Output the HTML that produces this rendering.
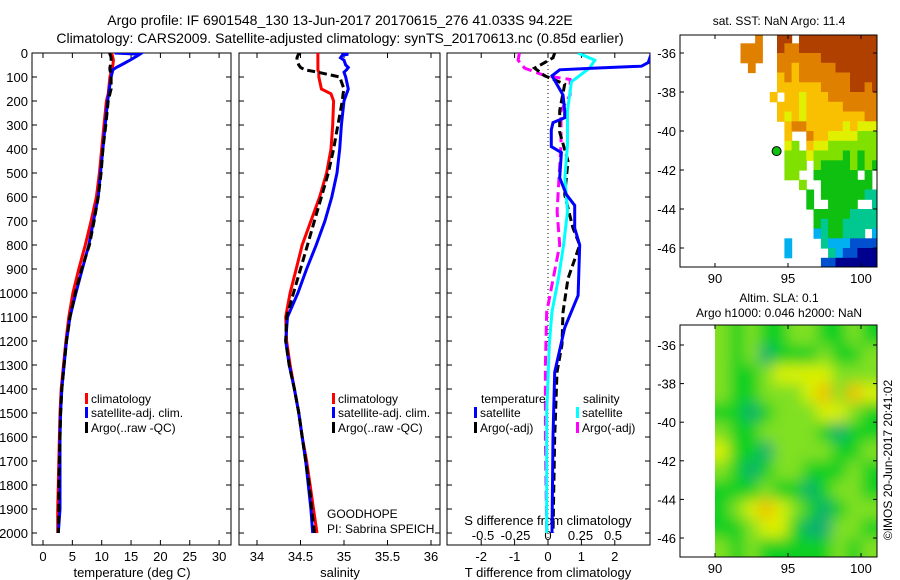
<!DOCTYPE html>
<html><head><meta charset="utf-8"><style>
body{margin:0;background:#fff;}
svg{display:block;font-family:"Liberation Sans",Arial,sans-serif;}
text{fill:#000;}
</style></head><body>
<svg id="fig" width="900" height="580" viewBox="0 0 900 580" xmlns="http://www.w3.org/2000/svg">
<defs>
<clipPath id="c1"><rect x="32" y="53" width="199" height="492"/></clipPath>
<clipPath id="c2"><rect x="239" y="53" width="201" height="492"/></clipPath>
<clipPath id="c3"><rect x="447" y="53" width="203" height="492"/></clipPath>
<clipPath id="cm1"><rect x="680" y="35" width="197" height="232"/></clipPath>
<clipPath id="cm2"><rect x="715" y="325" width="162" height="232"/></clipPath>
<filter id="blur" x="-10%" y="-10%" width="120%" height="120%"><feGaussianBlur stdDeviation="7"/></filter>
</defs>
<text x="340" y="25" font-size="14" text-anchor="middle">Argo profile: IF 6901548_130 13-Jun-2017 20170615_276 41.033S 94.22E</text>
<text x="340" y="43" font-size="14" text-anchor="middle">Climatology: CARS2009. Satellite-adjusted climatology: synTS_20170613.nc (0.85d earlier)</text>
<text x="779" y="25" font-size="12" text-anchor="middle">sat. SST: NaN Argo: 11.4</text>
<text x="779" y="302" font-size="12" text-anchor="middle">Altim. SLA: 0.1</text>
<text x="779" y="317" font-size="12" text-anchor="middle">Argo h1000: 0.046 h2000: NaN</text>
<g id="layer"></g>
<text transform="translate(892,460) rotate(-90)" font-size="12" text-anchor="middle">©IMOS 20-Jun-2017 20:41:02</text>
</svg>
<script>
// ---- profile data ----
const depths = [0,5,10,20,30,50,60,70,80,100,150,170,200,300,400,500,600,700,800,900,1000,1100,1200,1300,1400,1500,1600,1700,1800,1900,2000];
const tClim = [11.7,11.7,11.8,11.9,12.0,11.9,11.8,11.7,11.6,11.4,11.2,11.1,10.8,10.4,10.0,9.6,9.1,8.2,7.2,6.1,5.1,4.4,3.9,3.5,3.1,2.9,2.8,2.7,2.6,2.5,2.5];
const tSat = [12.2,16.5,16.2,15.5,14.8,13.3,12.5,11.9,11.8,11.6,11.3,11.2,11.0,10.6,10.2,9.8,9.4,8.6,7.8,6.7,5.6,4.6,4.0,3.6,3.2,3.0,2.9,2.9,2.9,2.9,2.6];
const tArgo = [11.4,11.4,11.5,11.6,11.6,11.5,11.4,11.4,11.5,11.6,11.6,11.4,11.1,10.7,10.2,9.9,9.4,8.7,7.9,6.6,5.5,4.6,4.0,3.6,3.2,3.0,2.9,2.8,2.7,2.7,2.6];
const sClim = [34.70,34.70,34.70,34.70,34.70,34.70,34.70,34.70,34.71,34.71,34.74,34.85,34.88,34.87,34.85,34.80,34.72,34.62,34.52,34.45,34.38,34.33,34.34,34.38,34.43,34.48,34.52,34.57,34.61,34.65,34.69];
const sSat = [34.97,35.05,34.98,34.96,35.0,35.02,35.05,35.03,35.0,35.02,35.05,35.03,35.0,34.97,34.95,34.92,34.86,34.78,34.68,34.57,34.47,34.35,34.33,34.37,34.43,34.48,34.52,34.56,34.59,34.62,34.64];
const sArgo = [34.50,34.48,34.47,34.46,34.46,34.48,34.50,34.55,34.70,34.95,35.0,34.99,34.98,34.93,34.88,34.82,34.74,34.66,34.58,34.50,34.42,34.34,34.33,34.37,34.43,34.48,34.52,34.56,34.60,34.63,34.66];
// ---- difference data ----
const tSatDDepth = [0,40,55,63,70,95,175,240,270,290,320,390,415,520,590,635,730,800,1010,1145,1330,1600,2000];
const tSatD = [3.1,3.0,2.8,1.4,0.35,0.12,0.45,0.5,0.5,0.15,0.1,0.1,0.4,0.35,0.55,0.8,0.8,0.95,0.9,0.5,0.2,0.15,0.12];
const tArgoDDepth = [0,20,40,63,95,130,240,330,450,590,730,800,940,1080,1215,1330,1600,2000];
const tArgoD = [0.2,0.15,-0.1,-0.4,-0.1,0.5,0.35,0.35,0.6,0.5,0.75,0.95,0.6,0.45,0.42,0.27,0.2,0.15];
const sSatDDepth = [0,30,63,120,240,380,520,660,800,940,1080,1215,1500,2000];
const sSatD = [0.23,0.36,0.32,0.18,0.15,0.15,0.13,0.15,0.12,0.08,0.03,0.01,-0.01,-0.01];
const sArgoDDepth = [0,30,63,95,110,175,240,380,520,660,800,940,1080,1300,1600,2000];
const sArgoD = [-0.22,-0.23,-0.18,-0.02,0.17,0.17,0.1,0.1,0.085,0.07,0.09,0.04,-0.01,-0.02,-0.02,-0.01];
// ---- tick labels ----
const depthTicks = [0,100,200,300,400,500,600,700,800,900,1000,1100,1200,1300,1400,1500,1600,1700,1800,1900,2000];
const tempTicks = [0,5,10,15,20,25,30];
const salTicks = [34,34.5,35,35.5,36];
const tDiffTicks = [-2,-1,0,1,2];
const sDiffTicks = [-0.5,-0.25,0,0.25,0.5];
const latTicks = [-36,-38,-40,-42,-44,-46];
const lonTicks = [90,95,100];
// ---- map data ----
const sstRowLats = [-35.25,-35.75,-36.25,-36.75,-37.25,-37.75,-38.25,-38.75,-39.25,-39.75,-40.25,-40.75,-41.25,-41.75,-42.25,-42.75,-43.25,-43.75,-44.25,-44.75,-45.25,-45.75,-46.25,-46.75];
const sstColLons = [92,92.5,93,93.5,94,94.5,95,95.5,96,96.5,97,97.5,98,98.5,99,99.5,100,100.5,101];
const sstLevels = ["..8..99.99999999999","888..98899999999999","888..88888899999999",".8...88788888999999",".....78788888889999",".....77777788889989","....7.7767778888888",".....77767777788888",".....76767777777788","......7887777767666","......7..8776666555","......65.7665555555","......5556555545455","......555.544445454","......55..444444.4.","........5..4444444.",".........4.44444433",".........4..4444..3","..........444443333","..........434433333","..........2344333.2","......2....32221111","......2.....3211000","...........11000000"];
const slaRowLats = [-35.5,-36.5,-37.5,-38.5,-39.5,-40.5,-41.5,-42.5,-43.5,-44.5,-45.5,-46.5];
const slaColLons = [90.5,91.5,92.5,93.5,94.5,95.5,96.5,97.5,98.5,99.5,100.5];
const slaLevels = ["21211221121","21201112112","21123333222","21122234243","11012223321","21122221011","31102222112","21012211121","11121101221","12343210122","11233100221","21211111212"];
const argoLon = [94.22];
const argoLat = [-41.033];

const NS='http://www.w3.org/2000/svg';
const layer=document.getElementById('layer');
function mk(tag,attrs,parent){const e=document.createElementNS(NS,tag);for(const k in attrs)e.setAttribute(k,attrs[k]);(parent||layer).appendChild(e);return e;}
const yD = d => 53 + d*0.24;
const xT = v => 43 + v*5.87;
const xS = v => 257 + (v-34)*87;
const xTD = v => 548 + v*33.4;
const xSD = v => 548 + v*130;
const mLon = v => 715 + (v-90)*14.6;
const mLat1 = v => 53 + (-36 - v)*19.5;
const mLat2 = v => 345 + (-36 - v)*19.3;

function frame(x,y,w,h,name){
  const r=mk('rect',{x:x,y:y,width:w,height:h,fill:'none',stroke:'#000','stroke-width':1});
  
  
}
function line(xs,ds,fx,color,dash,clip,name){
  const g=mk('g',{'clip-path':'url(#'+clip+')'});
  const pts=xs.map((v,i)=>fx(v).toFixed(1)+','+yD(ds[i]).toFixed(1)).join(' ');
  const p=mk('polyline',{points:pts,fill:'none',stroke:color,'stroke-width':3,'stroke-dasharray':dash||'none'},g);
  
  
}
function txt(x,y,s,size,anchor,name){
  const t=mk('text',{x:x,y:y,'font-size':size,'text-anchor':anchor||'start'});
  t.textContent=s;
  
  
  return t;
}
function fmt(v){return String(v);}

// panels
const panels=[[32,199,'c1'],[239,201,'c2'],[447,203,'c3']];
panels.forEach((p,i)=>{
  frame(p[0],53,p[1],492,'profile-panel-'+(i+1));
  depthTicks.forEach(d=>{
    mk('line',{x1:p[0],x2:p[0]+5,y1:yD(d),y2:yD(d),stroke:'#000'});
    mk('line',{x1:p[0]+p[1]-5,x2:p[0]+p[1],y1:yD(d),y2:yD(d),stroke:'#000'});
  });
});
depthTicks.forEach(d=>txt(28,yD(d)+5,fmt(d),13,'end','depth-tick-label'));
// x ticks
function xticks(vals,fx,name,lab){
  vals.forEach(v=>{
    const x=fx(v);
    mk('line',{x1:x,x2:x,y1:53,y2:58,stroke:'#000'});
    mk('line',{x1:x,x2:x,y1:540,y2:545,stroke:'#000'});
    if(lab!==false) txt(x,561,fmt(v),13,'middle',name);
  });
}
xticks(tempTicks,xT,'temperature-tick-label');
xticks(salTicks,xS,'salinity-tick-label');
xticks(tDiffTicks,xTD,'t-diff-tick-label');
sDiffTicks.forEach(v=>txt(xSD(v),540,fmt(v),13,'middle','s-diff-tick-label'));
txt(132,577,'temperature (deg C)',13,'middle','temperature-axis-title');
txt(340,577,'salinity',13,'middle','salinity-axis-title');
txt(548,577,'T difference from climatology',13,'middle','t-diff-axis-title');
txt(548,525,'S difference from climatology',13,'middle','s-diff-axis-title');

// zero line
mk('line',{x1:548,x2:548,y1:53,y2:545,stroke:'#000','stroke-dasharray':'1,3'});

// profiles
line(tClim,depths,xT,'#ff0000',null,'c1','temp-climatology-line');
line(tSat,depths,xT,'#0000ff',null,'c1','temp-satellite-line');
line(tArgo,depths,xT,'#000',"8,4",'c1','temp-argo-line');
line(sClim,depths,xS,'#ff0000',null,'c2','sal-climatology-line');
line(sSat,depths,xS,'#0000ff',null,'c2','sal-satellite-line');
line(sArgo,depths,xS,'#000',"8,4",'c2','sal-argo-line');
line(sArgoD,sArgoDDepth,xSD,'#ff00ff',"10,5",'c3','s-argo-diff-line');
line(tArgoD,tArgoDDepth,xTD,'#000',"8,4",'c3','t-argo-diff-line');
line(sSatD,sSatDDepth,xSD,'#00ffff',null,'c3','s-satellite-diff-line');
line(tSatD,tSatDDepth,xTD,'#0000ff',null,'c3','t-satellite-diff-line');

// legends
function leg(x,y,color,label,name){
  const r=mk('rect',{x:x,y:y-10,width:3,height:11,fill:color});
  
  
  txt(x+6,y,label,12,'start',name);
}
[[85,'legend-temp'],[332,'legend-sal']].forEach(([x,n])=>{
  leg(x,403,'#ff0000','climatology',n+'-climatology');
  leg(x,417,'#0000ff','satellite-adj. clim.',n+'-satellite');
  leg(x,432,'#000','Argo(..raw -QC)',n+'-argo');
});
txt(481,403,'temperature',12,'start','legend-diff-temperature-header');
txt(583,403,'salinity',12,'start','legend-diff-salinity-header');
leg(474,417,'#0000ff','satellite','legend-diff-t-satellite');
leg(474,432,'#000','Argo(-adj)','legend-diff-t-argo');
leg(576,417,'#00ffff','satellite','legend-diff-s-satellite');
leg(576,432,'#ff00ff','Argo(-adj)','legend-diff-s-argo');
txt(327,518,'GOODHOPE',12,'start','project-label');
txt(327,533,'PI: Sabrina SPEICH',12,'start','pi-label');

// SST map
const sstColors=['#00008f','#0050d0','#00b0f0','#00c890','#10c010','#80e000','#e0f000','#f8c000','#e08000','#b04000'];
const gm1=mk('g',{'clip-path':'url(#cm1)'});
sstLevels.forEach((row,ri)=>{
  for(let ci=0;ci<row.length;ci++){
    const ch=row[ci]; if(ch==='.')continue;
    const lon=sstColLons[ci], lat=sstRowLats[ri];
    const x0=mLon(lon-0.25), x1=mLon(lon+0.25), y0=mLat1(lat+0.25), y1=mLat1(lat-0.25);
    const r=mk('rect',{x:x0.toFixed(1),y:y0.toFixed(1),width:(x1-x0+0.5).toFixed(1),height:(y1-y0+0.5).toFixed(1),fill:sstColors[+ch]},gm1);
    
    
  }
});
const dot=mk('circle',{cx:mLon(argoLon[0]),cy:mLat1(argoLat[0]),r:4.5,fill:'#10c010',stroke:'#000','stroke-width':1});


frame(680,35,197,232,'sst-map-frame');

// SLA map
const slaColors=['#10b070','#10d020','#80e020','#d8f000','#f0c000'];
const gm2=mk('g',{'clip-path':'url(#cm2)'});
mk('rect',{x:715,y:325,width:162,height:232,fill:'#40d020'},gm2);
const gb=mk('g',{filter:'url(#blur)'},gm2);
slaLevels.forEach((row,ri)=>{
  for(let ci=0;ci<row.length;ci++){
    const lon=slaColLons[ci], lat=slaRowLats[ri];
    const x0=mLon(lon-0.5)-(ci===0?15:0), x1=mLon(lon+0.5)+(ci===row.length-1?15:0);
    const y0=mLat2(lat+0.5)-(ri===0?15:0), y1=mLat2(lat-0.5)+(ri===slaLevels.length-1?15:0);
    const r=mk('rect',{x:x0.toFixed(1),y:y0.toFixed(1),width:(x1-x0+0.5).toFixed(1),height:(y1-y0+0.5).toFixed(1),fill:slaColors[+row[ci]]},gb);
    
    
  }
});
frame(680,325,197,232,'sla-map-frame');

// map ticks
[[35,267,mLat1,'sst'],[325,557,mLat2,'sla']].forEach(([top,bot,fy,n])=>{
  latTicks.forEach(v=>{
    const y=fy(v);
    mk('line',{x1:680,x2:684,y1:y,y2:y,stroke:'#000'});
    mk('line',{x1:873,x2:877,y1:y,y2:y,stroke:'#000'});
    txt(676,y+5,fmt(v),13,'end',n+'-lat-tick-label');
  });
  lonTicks.forEach(v=>{
    const x=mLon(v);
    mk('line',{x1:x,x2:x,y1:top,y2:top+4,stroke:'#000'});
    mk('line',{x1:x,x2:x,y1:bot-4,y2:bot,stroke:'#000'});
    txt(x,bot+16,fmt(v),13,'middle',n+'-lon-tick-label');
  });
});
</script>
</body></html>
